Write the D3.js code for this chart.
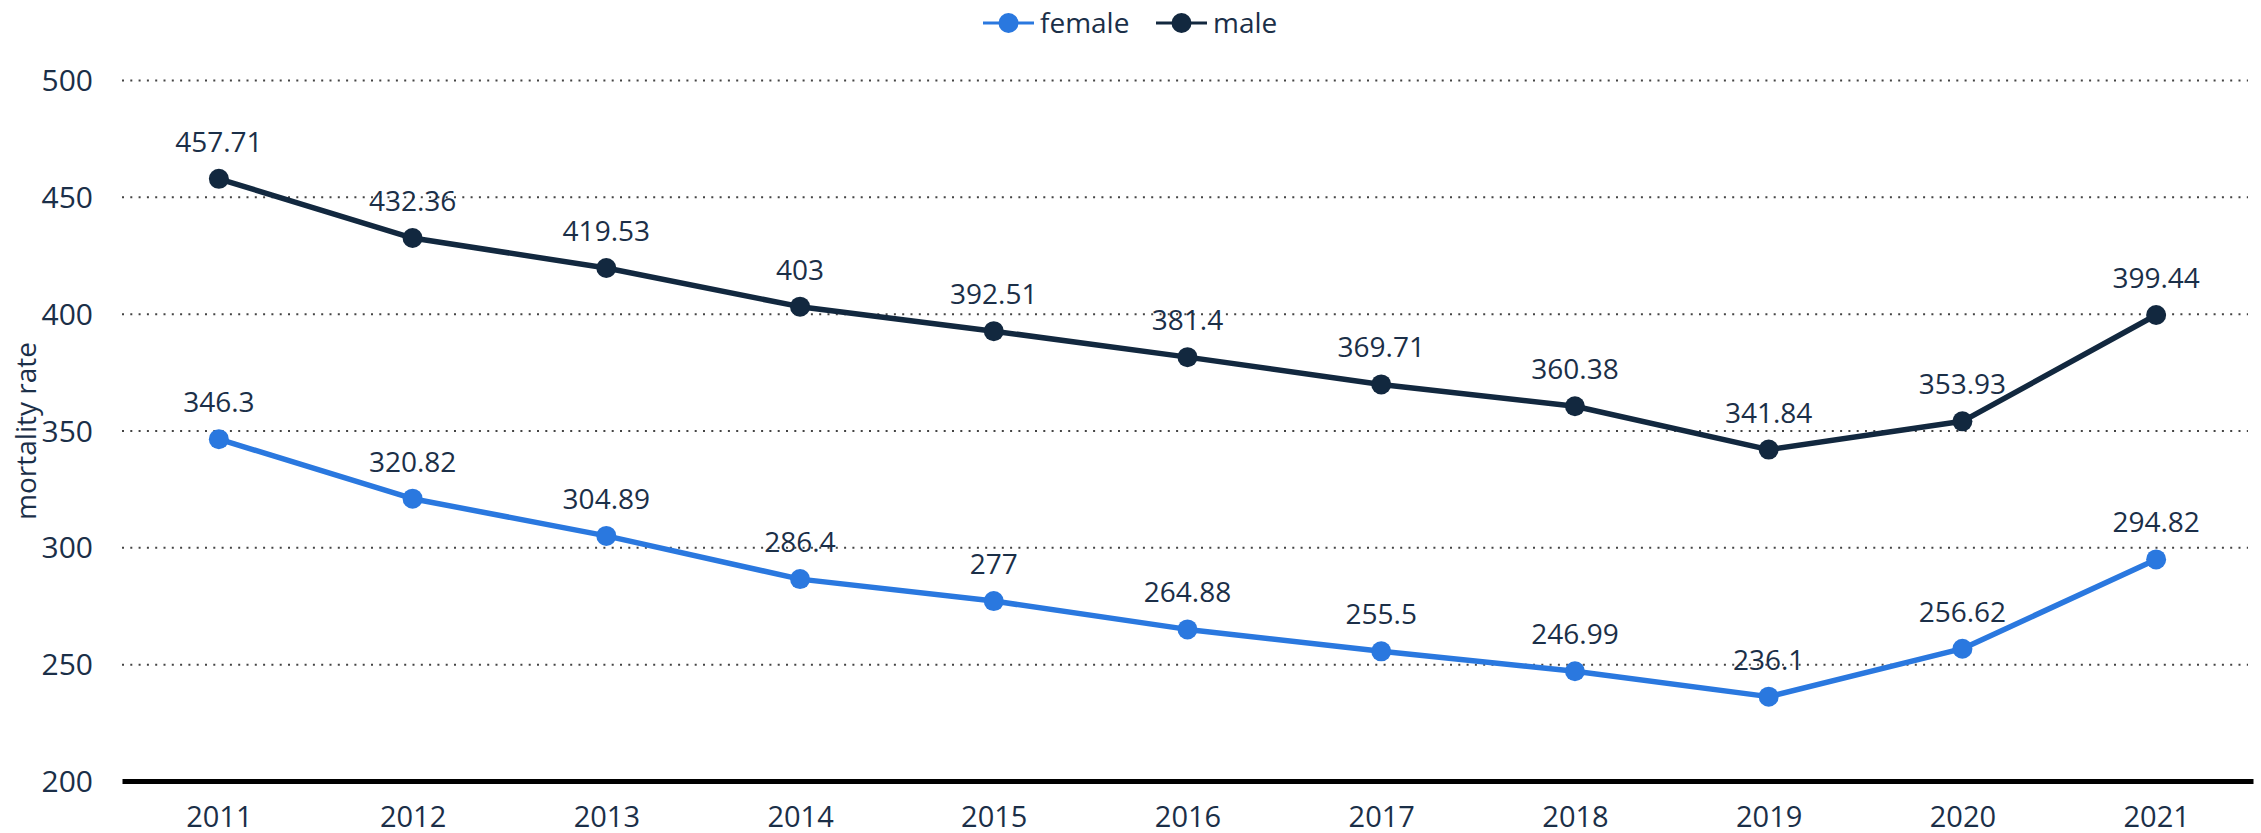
<!DOCTYPE html>
<html>
<head>
<meta charset="utf-8">
<script src="https://cdn.jsdelivr.net/npm/d3@7"></script>
<style>
  body { margin: 0; background: #fff; }
  text { font-family: "Open Sans", sans-serif; }
</style>
</head>
<body>
<div id="chart"></div>
<script>
const years = ["2011", "2012", "2013", "2014", "2015", "2016", "2017", "2018", "2019", "2020", "2021"];
const female = [346.3, 320.82, 304.89, 286.4, 277, 264.88, 255.5, 246.99, 236.1, 256.62, 294.82];
const male = [457.71, 432.36, 419.53, 403, 392.51, 381.4, 369.71, 360.38, 341.84, 353.93, 399.44];
const yTicks = [200, 250, 300, 350, 400, 450, 500];

const colorMap = { female: "#2a78df", male: "#12283f" };
const textColor = "#1b2f48";

const W = 2261, H = 833;
const margin = { top: 80, right: 8, bottom: 52, left: 122 };
const width = W - margin.left - margin.right;
const height = H - margin.top - margin.bottom;

const svg = d3.select("#chart").append("svg")
  .attr("width", W)
  .attr("height", H);

const g = svg.append("g")
  .attr("transform", `translate(${margin.left},${margin.top})`);

const x = d3.scalePoint()
  .domain(years)
  .range([0, width])
  .padding(0.5);

const y = d3.scaleLinear()
  .domain([200, 500])
  .range([height, 0]);

// Grid lines (dotted)
g.append("g")
  .call(d3.axisLeft(y).tickValues(yTicks.slice(1)).tickSize(-width + 5).tickFormat(""))
  .call(a => a.select(".domain").remove())
  .selectAll("line")
  .attr("stroke", "#444")
  .attr("stroke-width", 2)
  .attr("stroke-dasharray", "2,6.3");

// Y tick labels
g.append("g")
  .call(d3.axisLeft(y).tickValues(yTicks).tickSize(0).tickPadding(29))
  .call(a => a.select(".domain").remove())
  .selectAll("text")
  .style("font-size", "30px")
  .attr("fill", textColor)
  .attr("dy", "0.35em");

// X axis
g.append("g")
  .attr("transform", `translate(0,${height})`)
  .call(d3.axisBottom(x).tickSize(0).tickPadding(25))
  .call(a => a.select(".domain").attr("stroke", "#000").attr("stroke-width", 5))
  .selectAll("text")
  .style("font-size", "29px")
  .attr("fill", textColor);

// Y axis title
svg.append("text")
  .attr("transform", "rotate(-90)")
  .attr("x", -431)
  .attr("y", 36)
  .attr("text-anchor", "middle")
  .style("font-size", "28px")
  .attr("fill", textColor)
  .text("mortality rate");

const series = [
  { key: "female", values: female },
  { key: "male", values: male }
];

const line = d3.line()
  .x((d, i) => x(years[i]))
  .y(d => y(d));

series.forEach(s => {
  g.append("path")
    .datum(s.values)
    .attr("fill", "none")
    .attr("stroke", colorMap[s.key])
    .attr("stroke-width", 5.5)
    .attr("stroke-linejoin", "round")
    .attr("d", line);

  g.selectAll(`.pt-${s.key}`)
    .data(s.values)
    .enter()
    .append("circle")
    .attr("class", `pt-${s.key}`)
    .attr("cx", (d, i) => x(years[i]))
    .attr("cy", d => y(d))
    .attr("r", 10)
    .attr("fill", colorMap[s.key]);

  g.selectAll(`.lbl-${s.key}`)
    .data(s.values)
    .enter()
    .append("text")
    .attr("class", `lbl-${s.key}`)
    .attr("x", (d, i) => x(years[i]))
    .attr("y", d => y(d) - 27)
    .attr("text-anchor", "middle")
    .style("font-size", "28px")
    .attr("fill", textColor)
    .text(d => d);
});

// Legend
const legendItems = [
  { key: "female", x: 983 },
  { key: "male", x: 1156 }
];
const legend = svg.append("g").attr("transform", "translate(0,23)");
legendItems.forEach(item => {
  const li = legend.append("g").attr("transform", `translate(${item.x},0)`);
  li.append("line")
    .attr("x1", 0).attr("x2", 51)
    .attr("y1", 0).attr("y2", 0)
    .attr("stroke", colorMap[item.key])
    .attr("stroke-width", 3);
  li.append("circle")
    .attr("cx", 25.5).attr("cy", 0)
    .attr("r", 10)
    .attr("fill", colorMap[item.key]);
  li.append("text")
    .attr("x", 57)
    .attr("y", 0)
    .attr("dy", "0.35em")
    .style("font-size", "28px")
    .attr("fill", textColor)
    .text(item.key);
});
</script>
</body>
</html>
